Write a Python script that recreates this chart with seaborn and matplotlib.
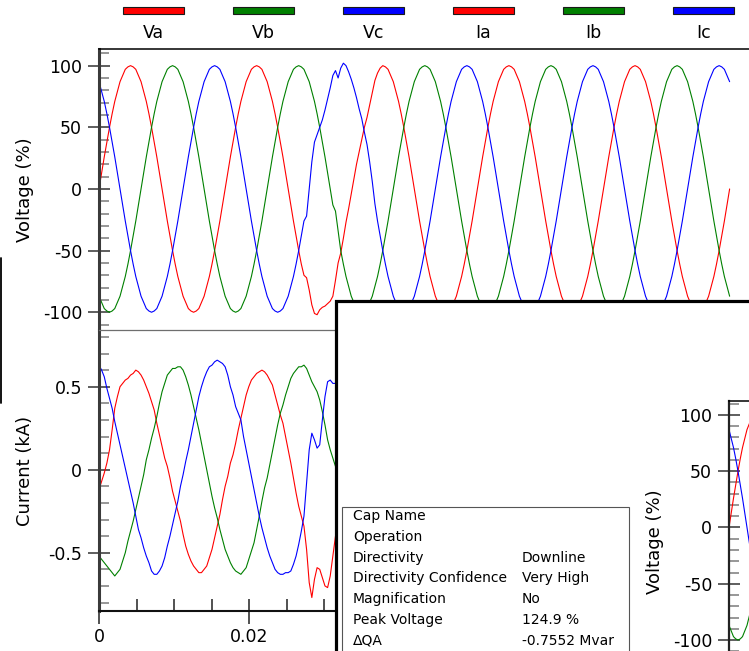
import numpy as np
import pandas as pd
import matplotlib
matplotlib.use("Agg")
import matplotlib.pyplot as plt
from matplotlib.patches import Rectangle
from matplotlib.ticker import MultipleLocator, FixedLocator, FixedFormatter
import seaborn as sns

sns.set_style("white")
plt.rcParams["font.family"] = ["DejaVu Sans"]
plt.rcParams["axes.unicode_minus"] = False
plt.rcParams["text.color"] = "black"
plt.rcParams["axes.labelcolor"] = "black"
plt.rcParams["xtick.labelcolor"] = "black"
plt.rcParams["ytick.labelcolor"] = "black"

# ---------------- data ----------------
SAMPLE_STEP_S = 1 / 2860  # sampling interval of the recorded waveforms (s)

va = [
    0, 13, 26, 38, 50, 61, 71, 79, 87, 92, 97, 99, 100, 99, 97, 92, 87, 79, 71, 61, 50, 38, 26, 13,
    0, -13, -26, -38, -50, -61, -71, -79, -87, -92, -97, -99, -100, -99, -97, -92, -87, -79, -71, -61, -50, -38, -26, -13,
    0, 13, 26, 38, 50, 61, 71, 79, 87, 92, 97, 99, 100, 99, 97, 92, 87, 79, 71, 61, 50, 38, 26, 13,
    0, -13, -26, -38, -50,
    -61, -70, -72, -82, -94, -101, -102, -98, -96, -95, -93, -91, -87, -74, -60, -52, -40, -27, -16,
    -4, 8, 20, 30, 40, 50, 58, 68, 78, 88, 94, 98, 100,
    99, 97, 92, 87, 79, 71, 61, 50, 38, 26, 13,
    0, -13, -26, -38, -50, -61, -71, -79, -87, -92, -97, -99, -100, -99, -97, -92, -87, -79, -71, -61, -50, -38, -26, -13,
    0, 13, 26, 38, 50, 61, 71, 79, 87, 92, 97, 99, 100, 99, 97, 92, 87, 79, 71, 61, 50, 38, 26, 13,
    0, -13, -26, -38, -50, -61, -71, -79, -87, -92, -97, -99, -100, -99, -97, -92, -87, -79, -71, -61, -50, -38, -26, -13,
    0, 13, 26, 38, 50, 61, 71, 79, 87, 92, 97, 99, 100, 99, 97, 92, 87, 79, 71, 61, 50, 38, 26, 13,
    0, -13, -26, -38, -50, -61, -71, -79, -87, -92, -97, -99, -100, -99, -97, -92, -87, -79, -71, -61, -50, -38, -26, -13,
    0,
]

vb = [
    -87, -92, -97, -99, -100, -99, -97, -92, -87, -79, -71, -61, -50, -38, -26, -13,
    0, 13, 26, 38, 50, 61, 71, 79, 87, 92, 97, 99, 100, 99, 97, 92, 87, 79, 71, 61, 50, 38, 26, 13,
    0, -13, -26, -38, -50, -61, -71, -79, -87, -92, -97, -99, -100, -99, -97, -92, -87, -79, -71, -61, -50, -38, -26, -13,
    0, 13, 26, 38, 50, 61, 71, 79, 87, 92, 97, 99, 100, 99, 97, 92, 87, 79, 71, 61, 50, 38, 26, 13,
    0, -13,
    -18, -34,
    -50, -61, -71, -79, -87, -92, -97, -99, -100, -99, -97, -92, -87, -79, -71, -61, -50, -38, -26, -13,
    0, 13, 26, 38, 50, 61, 71, 79, 87, 92, 97, 99, 100, 99, 97, 92, 87, 79, 71, 61, 50, 38, 26, 13,
    0, -13, -26, -38, -50, -61, -71, -79, -87, -92, -97, -99, -100, -99, -97, -92, -87, -79, -71, -61, -50, -38, -26, -13,
    0, 13, 26, 38, 50, 61, 71, 79, 87, 92, 97, 99, 100, 99, 97, 92, 87, 79, 71, 61, 50, 38, 26, 13,
    0, -13, -26, -38, -50, -61, -71, -79, -87, -92, -97, -99, -100, -99, -97, -92, -87, -79, -71, -61, -50, -38, -26, -13,
    0, 13, 26, 38, 50, 61, 71, 79, 87, 92, 97, 99, 100, 99, 97, 92, 87, 79, 71, 61, 50, 38, 26, 13,
    0, -13, -26, -38, -50, -61, -71, -79, -87,
]

vc = [
    87, 79, 71, 61, 50, 38, 26, 13, 0, -13, -26, -38, -50, -61, -71, -79,
    -87, -92, -97, -99, -100, -99, -97, -92, -87, -79, -71, -61, -50, -38, -26, -13,
    0, 13, 26, 38, 50, 61, 71, 79, 87, 92, 97, 99, 100, 99, 97, 92, 87, 79, 71, 61, 50, 38, 26, 13,
    0, -13, -26, -38, -50, -61, -71, -79, -87, -92, -97, -99, -100, -99, -97, -92, -87, -79, -71, -61, -50, -38, -26,
    -22, 0, 22, 38, 44, 50, 56, 64, 73, 82, 92, 96, 90, 98, 102, 100, 95, 89, 82, 74, 65, 57, 46, 36, 22, 6, -12, -26,
    -38, -50, -61, -71, -79, -87, -92, -97, -99, -100, -99, -97, -92, -87, -79, -71, -61, -50, -38, -26, -13,
    0, 13, 26, 38, 50, 61, 71, 79, 87, 92, 97, 99, 100, 99, 97, 92, 87, 79, 71, 61, 50, 38, 26, 13,
    0, -13, -26, -38, -50, -61, -71, -79, -87, -92, -97, -99, -100, -99, -97, -92, -87, -79, -71, -61, -50, -38, -26, -13,
    0, 13, 26, 38, 50, 61, 71, 79, 87, 92, 97, 99, 100, 99, 97, 92, 87, 79, 71, 61, 50, 38, 26, 13,
    0, -13, -26, -38, -50, -61, -71, -79, -87, -92, -97, -99, -100, -99, -97, -92, -87, -79, -71, -61, -50, -38, -26, -13,
    0, 13, 26, 38, 50, 61, 71, 79, 87, 92, 97, 99, 100, 99, 97, 92, 87,
]

ia = [
    -0.12, -0.07, -0.02, 0.04, 0.12, 0.24, 0.37, 0.44, 0.50, 0.52,
    0.54, 0.55, 0.57, 0.58, 0.60, 0.59, 0.57, 0.54, 0.50, 0.46,
    0.41, 0.36, 0.28, 0.21, 0.14, 0.07, 0.02, -0.05, -0.13, -0.19,
    -0.25, -0.31, -0.39, -0.46, -0.51, -0.55, -0.58, -0.60, -0.62, -0.62,
    -0.60, -0.58, -0.53, -0.48, -0.41, -0.34, -0.27, -0.18, -0.10, -0.04,
    0.04, 0.09, 0.16, 0.24, 0.31, 0.38, 0.45, 0.50, 0.54, 0.56,
    0.58, 0.59, 0.60, 0.59, 0.57, 0.54, 0.51, 0.45, 0.39, 0.33,
    0.28, 0.20, 0.12, 0.04, -0.05, -0.14, -0.22, -0.28, -0.34, -0.48,
    -0.68, -0.77, -0.66, -0.59, -0.60, -0.65, -0.70, -0.71, -0.64, -0.52,
    -0.40,
]

ib = [
    -0.52, -0.54, -0.56, -0.58, -0.60, -0.62, -0.64, -0.62, -0.60, -0.55,
    -0.50, -0.43, -0.37, -0.31, -0.24, -0.17, -0.10, -0.03, 0.06, 0.12,
    0.19, 0.25, 0.32, 0.40, 0.47, 0.52, 0.57, 0.59, 0.61, 0.61,
    0.62, 0.62, 0.60, 0.56, 0.51, 0.45, 0.38, 0.31, 0.24, 0.16,
    0.08, 0.00, -0.08, -0.16, -0.23, -0.29, -0.36, -0.42, -0.48, -0.52,
    -0.56, -0.59, -0.61, -0.62, -0.63, -0.61, -0.59, -0.54, -0.49, -0.44,
    -0.36, -0.28, -0.19, -0.11, -0.05, 0.03, 0.11, 0.19, 0.27, 0.34,
    0.39, 0.45, 0.50, 0.55, 0.58, 0.60, 0.62, 0.62, 0.63, 0.61,
    0.57, 0.53, 0.50, 0.47, 0.42, 0.35, 0.27, 0.18, 0.12, 0.07,
    0.02,
]

ic = [
    0.63, 0.60, 0.56, 0.49, 0.43, 0.37, 0.29, 0.22, 0.15, 0.08,
    0.01, -0.06, -0.13, -0.20, -0.28, -0.36, -0.41, -0.47, -0.52, -0.56,
    -0.61, -0.63, -0.63, -0.61, -0.58, -0.53, -0.46, -0.40, -0.33, -0.26,
    -0.19, -0.10, -0.03, 0.05, 0.12, 0.20, 0.28, 0.36, 0.44, 0.50,
    0.55, 0.59, 0.62, 0.63, 0.65, 0.66, 0.65, 0.64, 0.62, 0.57,
    0.50, 0.45, 0.38, 0.34, 0.30, 0.20, 0.12, 0.04, -0.04, -0.12,
    -0.20, -0.28, -0.35, -0.41, -0.47, -0.52, -0.56, -0.60, -0.62, -0.63,
    -0.63, -0.62, -0.62, -0.61, -0.57, -0.52, -0.45, -0.37, -0.28, -0.08,
    0.12, 0.22, 0.18, 0.13, 0.15, 0.30, 0.44, 0.53, 0.54, 0.52,
    0.52,
]

series_names = ["Va", "Vb", "Vc", "Ia", "Ib", "Ic"]
series_colors = ["#ff0000", "#008000", "#0000ff", "#ff0000", "#008000", "#0000ff"]

x_ticks = [0, 0.02]
x_tick_labels = ["0", "0.02"]
v_ticks = [-100, -50, 0, 50, 100]
v_tick_labels = ["-100", "-50", "0", "50", "100"]
i_ticks = [-0.5, 0, 0.5]
i_tick_labels = ["-0.5", "0", "0.5"]

table_labels = ["Cap Name", "Operation", "Directivity", "Directivity Confidence",
                "Magnification", "Peak Voltage", "\u0394QA"]
table_values = ["", "", "Downline", "Very High", "No", "124.9 %", "-0.7552 Mvar"]

assert len(va) == len(vb) == len(vc) == 241
assert len(ia) == len(ib) == len(ic) == 91

# ---------------- data frames ----------------
def long_frame(names, arrays):
    rows = []
    for name, arr in zip(names, arrays):
        t = np.arange(len(arr)) * SAMPLE_STEP_S
        rows.append(pd.DataFrame({"t": t, "value": arr, "phase": name}))
    return pd.concat(rows, ignore_index=True)

volt_df = long_frame(series_names[:3], [va, vb, vc])
curr_df = long_frame(series_names[3:], [ia, ib, ic])
palette = dict(zip(series_names, series_colors))

# ---------------- figure / layout in pixels ----------------
W, H = 749, 651
fig = plt.figure(figsize=(W / 100, H / 100), dpi=100)
fig.patch.set_facecolor("white")


def px_axes(x0, y0, x1, y1, **kw):
    return fig.add_axes([x0 / W, 1 - y1 / H, (x1 - x0) / W, (y1 - y0) / H], **kw)


PX_PER_S_MAIN = 7515.0
PX_PER_S_SMALL = 6435.0

ax_v = px_axes(99, 49, 770, 330, zorder=1)
ax_i = px_axes(99, 330, 770, 611, zorder=1)
ax_o = fig.add_axes([0, 0, 1, 1], zorder=10)
ax_s = px_axes(729, 401, 790, 700, zorder=11)

LW = 0.8
for ax, df, pal in [(ax_v, volt_df, {k: palette[k] for k in series_names[:3]}),
                    (ax_i, curr_df, {k: palette[k] for k in series_names[3:]}),
                    (ax_s, volt_df, {k: palette[k] for k in series_names[:3]})]:
    sns.lineplot(data=df, x="t", y="value", hue="phase", palette=pal, ax=ax,
                 legend=False, linewidth=LW, estimator=None, sort=False, errorbar=None)
    ax.set_xlabel("")
    ax.set_ylabel("")
    ax.set_facecolor("white")

ax_v.set_xlim(0, (770 - 99) / PX_PER_S_MAIN)
ax_i.set_xlim(0, (770 - 99) / PX_PER_S_MAIN)
ax_s.set_xlim(0, (790 - 729) / PX_PER_S_SMALL)

ax_v.set_ylim(-114.4, 113.5)
ax_i.set_ylim(-0.851, 0.8416)
ax_s.set_ylim(-153.3, 112.4)

TICK_FS = 12.5
LABEL_FS = 13


def style_y(ax, ticks, labels, minor_step):
    ax.yaxis.set_major_locator(FixedLocator(ticks))
    ax.yaxis.set_major_formatter(FixedFormatter(labels))
    ax.yaxis.set_minor_locator(MultipleLocator(minor_step))
    ax.tick_params(axis="y", which="major", direction="inout", length=15.8, width=1.1,
                   color="#333333", labelcolor="black", pad=4.3, labelsize=TICK_FS,
                   left=True, right=False)
    ax.tick_params(axis="y", which="minor", direction="in", length=7.2, width=1.1,
                   color="#7a7a7a", left=True, right=False)


style_y(ax_v, v_ticks, v_tick_labels, 10)
style_y(ax_i, i_ticks, i_tick_labels, 0.1)
style_y(ax_s, v_ticks, v_tick_labels, 10)

for ax in (ax_v, ax_s):
    ax.tick_params(axis="x", which="both", bottom=False, top=False, labelbottom=False)

ax_i.xaxis.set_major_locator(FixedLocator(x_ticks))
ax_i.xaxis.set_major_formatter(FixedFormatter(x_tick_labels))
ax_i.xaxis.set_minor_locator(MultipleLocator(0.005))
ax_i.tick_params(axis="x", which="major", direction="inout", length=18, width=1.1,
                 color="#222222", labelcolor="black", pad=3, labelsize=TICK_FS,
                 bottom=True, top=False)
ax_i.tick_params(axis="x", which="minor", direction="in", length=9, width=1.1,
                 color="#222222", bottom=True, top=False)

# spines
for ax in (ax_v, ax_i, ax_s):
    ax.spines["right"].set_visible(False)
ax_v.spines["bottom"].set_visible(False)
ax_v.spines["top"].set_color("black"); ax_v.spines["top"].set_linewidth(1.1)
ax_v.spines["left"].set_color("#3a3a3a"); ax_v.spines["left"].set_linewidth(2.2)
ax_i.spines["top"].set_color("#6e6e6e"); ax_i.spines["top"].set_linewidth(0.9)
ax_i.spines["left"].set_color("#3a3a3a"); ax_i.spines["left"].set_linewidth(2.2)
ax_i.spines["bottom"].set_color("#111111"); ax_i.spines["bottom"].set_linewidth(1.5)
ax_s.spines["bottom"].set_visible(False)
ax_s.spines["top"].set_color("black"); ax_s.spines["top"].set_linewidth(1.1)
ax_s.spines["left"].set_color("#222222"); ax_s.spines["left"].set_linewidth(1.6)

# axis labels
ax_v.set_ylabel("Voltage (%)", fontsize=LABEL_FS, color="black")
ax_v.yaxis.set_label_coords((34 - 99) / (770 - 99), 0.5)
ax_i.set_ylabel("Current (kA)", fontsize=LABEL_FS, color="black")
ax_i.yaxis.set_label_coords((34 - 99) / (770 - 99), 0.5)
ax_s.set_ylabel("Voltage (%)", fontsize=LABEL_FS, color="black")
ax_s.yaxis.set_label_coords((664 - 729) / (790 - 729), (700 - 542) / (700 - 401))

# ---------------- overlay (legend strip, second window, info table) ----------------
ax_o.set_xlim(0, W)
ax_o.set_ylim(H, 0)
ax_o.axis("off")
ax_o.patch.set_alpha(0)

LEGEND_X0, LEGEND_DX = 153.5, 110
for i, (name, color) in enumerate(zip(series_names, series_colors)):
    cx = LEGEND_X0 + LEGEND_DX * i
    ax_o.add_patch(Rectangle((cx - 30.5, 7), 61, 7, facecolor=color,
                             edgecolor="#1a1a1a", linewidth=0.8))
    ax_o.text(cx, 33.5, name, ha="center", va="center", fontsize=TICK_FS, color="black")

# left edge of a window behind
ax_o.plot([0.8, 0.8], [258, 403], color="black", linewidth=1.3)

# overlapping window
ax_o.add_patch(Rectangle((335.5, 300.5), 600, 500, facecolor="white",
                         edgecolor="black", linewidth=2.3))

# info table
ax_o.add_patch(Rectangle((341.5, 506.5), 287.5, 250, facecolor="white",
                         edgecolor="#555555", linewidth=0.8))
ROW0, ROW_DY = 516, 20.8
for i, (lab, val) in enumerate(zip(table_labels, table_values)):
    y = ROW0 + ROW_DY * i
    ax_o.text(353, y, lab, ha="left", va="center", fontsize=10, color="black")
    if val:
        ax_o.text(522, y, val, ha="left", va="center", fontsize=10, color="black")

fig.savefig("out.png", dpi=100, facecolor="white")
